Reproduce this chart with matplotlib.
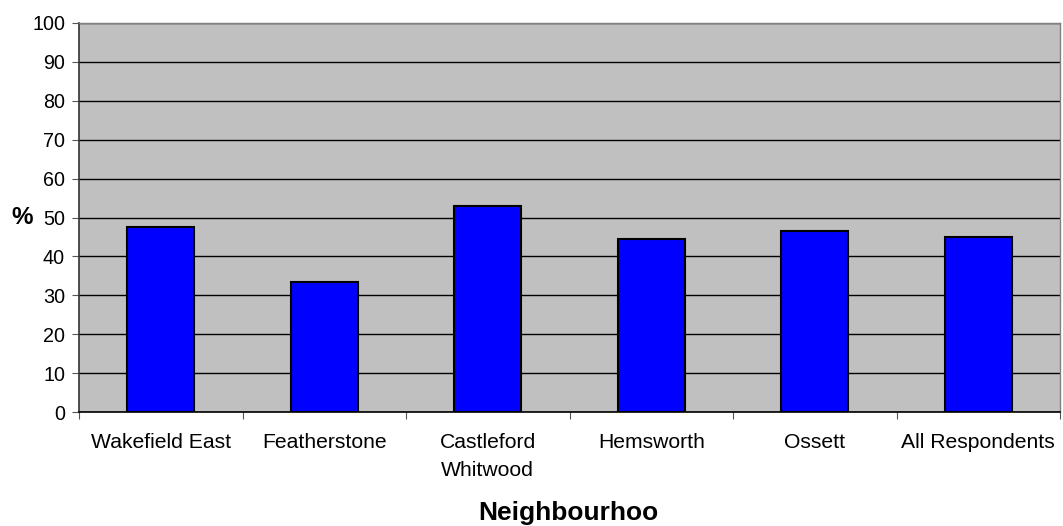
import matplotlib
matplotlib.use("Agg")
import matplotlib.pyplot as plt
import numpy as np

categories = ["Wakefield East", "Featherstone", "Castleford\nWhitwood", "Hemsworth", "Ossett", "All Respondents"]
values = [47.6, 33.5, 53.0, 44.6, 46.5, 45.1]
yticks = [0, 10, 20, 30, 40, 50, 60, 70, 80, 90, 100]

plt.rcParams['font.family'] = ['Liberation Sans', 'DejaVu Sans']

fig = plt.figure(figsize=(10.63, 5.26), dpi=100)
ax = fig.add_axes([79/1063, 1 - 412/526, (1060-79)/1063, (412-23)/526])
ax.set_facecolor('#c0c0c0')

x = np.arange(len(categories))
ax.bar(x, values, width=0.41, color='#0000ff', edgecolor='black', linewidth=1.5, zorder=3)

ax.set_xlim(-0.5, len(categories) - 0.5)
ax.set_ylim(0, 100)
ax.set_yticks(yticks)
ax.set_yticklabels([str(v) for v in yticks], fontsize=14.2)
ax.yaxis.grid(True, color='black', linewidth=1, zorder=1)
ax.set_axisbelow(True)

ax.set_xticks(np.arange(len(categories) + 1) - 0.5)
ax.set_xticklabels([])
ax.set_xticks(x, minor=True)
ax.set_xticklabels(categories, minor=True, fontsize=15.2, linespacing=1.6)
ax.tick_params(axis='x', which='minor', length=0, pad=15)
ax.tick_params(axis='x', which='major', length=5, color='#555555')
ax.tick_params(axis='y', length=5, color='#555555', pad=5)

for s in ['top', 'right']:
    ax.spines[s].set_color('#808080')
    ax.spines[s].set_linewidth(1)
ax.spines['left'].set_color('#333333')
ax.spines['bottom'].set_color('black')
ax.spines['left'].set_linewidth(1.2)
ax.spines['bottom'].set_linewidth(1.2)

fig.text(22.5/1063, 1 - 217/526, '%', fontsize=17.5, fontweight='bold', ha='center', va='center')
fig.text(568/1063, 1 - 513/526, 'Neighbourhoo', fontsize=19, fontweight='bold', ha='center', va='center')

fig.savefig('out.png', dpi=100)
